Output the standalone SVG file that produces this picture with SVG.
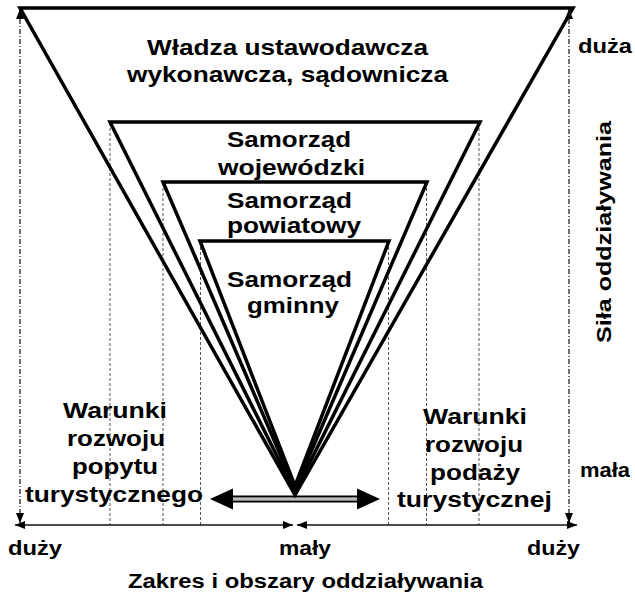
<svg xmlns="http://www.w3.org/2000/svg" width="635" height="595" viewBox="0 0 635 595">
<style>
.t{font-family:"Liberation Sans",Arial,sans-serif;font-weight:bold;font-size:22px;fill:#000;text-anchor:middle}
.s{font-size:20px}
.tri{fill:none;stroke:#000;stroke-width:3.5;stroke-linejoin:miter}
.guide{fill:none;stroke:#555;stroke-width:1;stroke-dasharray:3 2}
.axisv{fill:none;stroke:#111;stroke-width:1.2;stroke-dasharray:5 2 1 2}
.axish{fill:none;stroke:#111;stroke-width:1.5}
</style>
<defs>
<marker id="ah" viewBox="0 0 10 8" refX="10" refY="4" markerUnits="userSpaceOnUse" markerWidth="10" markerHeight="8" orient="auto-start-reverse">
<path d="M0,0 L10,4 L0,8 z" fill="#000"/>
</marker>
</defs>
<rect width="635" height="595" fill="#fff"/>
<g id="connectors">
<line class="guide" x1="110" y1="123" x2="110" y2="525"/>
<line class="guide" x1="163" y1="183" x2="163" y2="525"/>
<line class="guide" x1="200.5" y1="242" x2="200.5" y2="525"/>
<line class="guide" x1="388.5" y1="242" x2="388.5" y2="525"/>
<line class="guide" x1="426.5" y1="183" x2="426.5" y2="525"/>
<line class="guide" x1="479" y1="123" x2="479" y2="525"/>
<line class="axisv" x1="20" y1="9" x2="20" y2="523" marker-start="url(#ah)" marker-end="url(#ah)"/>
<line class="axisv" x1="569" y1="9" x2="569" y2="523" marker-start="url(#ah)" marker-end="url(#ah)"/>
<line class="axish" x1="15" y1="525" x2="293" y2="525" marker-start="url(#ah)" marker-end="url(#ah)"/>
<line class="axish" x1="297" y1="525" x2="577" y2="525" marker-start="url(#ah)" marker-end="url(#ah)"/>
<g id="double-arrow">
<line x1="230" y1="496.5" x2="359" y2="496.5" stroke="#000" stroke-width="2"/>
<line x1="230" y1="499" x2="359" y2="499" stroke="#777" stroke-width="1.2"/>
<line x1="230" y1="501.5" x2="359" y2="501.5" stroke="#000" stroke-width="2"/>
<polygon points="210,499 233,488.5 233,509.5" fill="#000"/>
<polygon points="380,499 357,488.5 357,509.5" fill="#000"/>
</g>
</g>
<g id="node-wladza">
<polygon class="tri" points="20,8 573,8 295,495"/>
<text class="t" x="287.5" y="55" textLength="281" lengthAdjust="spacingAndGlyphs">Władza ustawodawcza</text>
<text class="t" x="287.5" y="82" textLength="321" lengthAdjust="spacingAndGlyphs">wykonawcza, sądownicza</text>
</g>
<g id="node-wojewodzki">
<polygon class="tri" points="110,122 480,122 295,492"/>
<text class="t" x="289" y="147" textLength="124" lengthAdjust="spacingAndGlyphs">Samorząd</text>
<text class="t" x="291.5" y="175" textLength="147" lengthAdjust="spacingAndGlyphs">wojewódzki</text>
</g>
<g id="node-powiatowy">
<polygon class="tri" points="163,182 427,182 295,489"/>
<text class="t" x="289.5" y="208" textLength="125" lengthAdjust="spacingAndGlyphs">Samorząd</text>
<text class="t" x="294" y="233" textLength="134" lengthAdjust="spacingAndGlyphs">powiatowy</text>
</g>
<g id="node-gminny">
<polygon class="tri" points="200,241 389,241 295,486"/>
<text class="t" x="289.5" y="287" textLength="125" lengthAdjust="spacingAndGlyphs">Samorząd</text>
<text class="t" x="293" y="313" textLength="92" lengthAdjust="spacingAndGlyphs">gminny</text>
</g>
<g id="label-popyt">
<text class="t" x="115" y="418" textLength="104" lengthAdjust="spacingAndGlyphs">Warunki</text>
<text class="t" x="116" y="446" textLength="98" lengthAdjust="spacingAndGlyphs">rozwoju</text>
<text class="t" x="115" y="474" textLength="86" lengthAdjust="spacingAndGlyphs">popytu</text>
<text class="t" x="114" y="502" textLength="178" lengthAdjust="spacingAndGlyphs">turystycznego</text>
</g>
<g id="label-podaz">
<text class="t" x="475" y="424" textLength="104" lengthAdjust="spacingAndGlyphs">Warunki</text>
<text class="t" x="474" y="452" textLength="98" lengthAdjust="spacingAndGlyphs">rozwoju</text>
<text class="t" x="475" y="480" textLength="90" lengthAdjust="spacingAndGlyphs">podaży</text>
<text class="t" x="474.5" y="507" textLength="155" lengthAdjust="spacingAndGlyphs">turystycznej</text>
</g>
<g id="axis-labels">
<text class="t s" x="605" y="53" textLength="54" lengthAdjust="spacingAndGlyphs">duża</text>
<text class="t s" x="605" y="477" textLength="50" lengthAdjust="spacingAndGlyphs">mała</text>
<text class="t s" x="35" y="555" textLength="54" lengthAdjust="spacingAndGlyphs">duży</text>
<text class="t s" x="305" y="555" textLength="52" lengthAdjust="spacingAndGlyphs">mały</text>
<text class="t s" x="553.5" y="555" textLength="53" lengthAdjust="spacingAndGlyphs">duży</text>
<text class="t s" x="305.5" y="588" textLength="355" lengthAdjust="spacingAndGlyphs">Zakres i obszary oddziaływania</text>
<text class="t s" transform="translate(611,232) rotate(-90)" x="0" y="0" textLength="222" lengthAdjust="spacingAndGlyphs">Siła oddziaływania</text>
</g>
</svg>
